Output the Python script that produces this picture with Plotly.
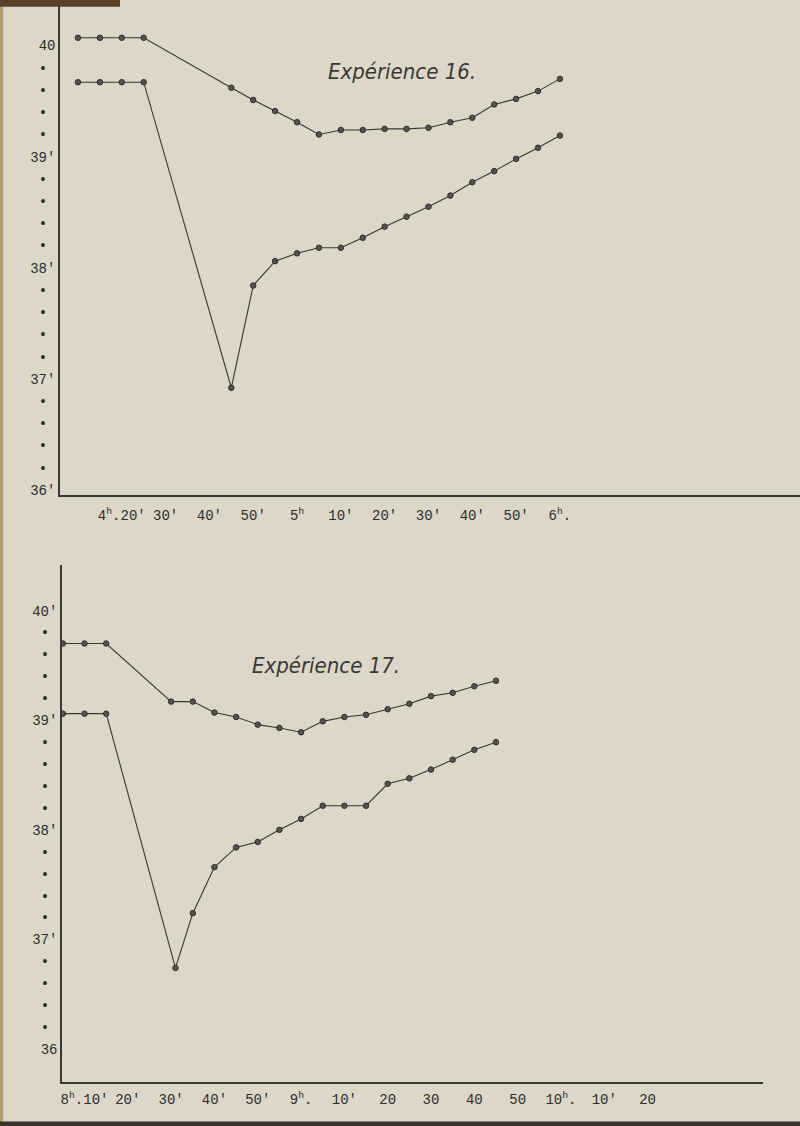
import pandas as pd
import plotly.graph_objects as go

# ---- Expérience 16 ----
exp16_times_haut = ["4:10", "4:15", "4:20", "4:25", "4:45", "4:50", "4:55", "5:00", "5:05", "5:10",
                    "5:15", "5:20", "5:25", "5:30", "5:35", "5:40", "5:45", "5:50", "5:55", "6:00"]
exp16_haut = [40.07, 40.07, 40.07, 40.07, 39.62, 39.51, 39.41, 39.31, 39.20, 39.24,
              39.24, 39.25, 39.25, 39.26, 39.31, 39.35, 39.47, 39.52, 39.59, 39.70]
exp16_times_bas = ["4:10", "4:15", "4:20", "4:25", "4:45", "4:50", "4:55", "5:00", "5:05", "5:10",
                   "5:15", "5:20", "5:25", "5:30", "5:35", "5:40", "5:45", "5:50", "5:55", "6:00"]
exp16_bas = [39.67, 39.67, 39.67, 39.67, 36.92, 37.84, 38.06, 38.13, 38.18, 38.18,
             38.27, 38.37, 38.46, 38.55, 38.65, 38.77, 38.87, 38.98, 39.08, 39.19]
exp16_ticks = ["4:20", "4:30", "4:40", "4:50", "5:00", "5:10", "5:20", "5:30", "5:40", "5:50", "6:00"]
exp16_ticklabels = ["4<sup>h</sup>.20'", "30'", "40'", "50'", "5<sup>h</sup>", "10'", "20'",
                    "30'", "40'", "50'", "6<sup>h</sup>."]

# ---- Expérience 17 ----
exp17_times_haut = ["8:05", "8:10", "8:15", "8:30", "8:35", "8:40", "8:45", "8:50", "8:55", "9:00",
                    "9:05", "9:10", "9:15", "9:20", "9:25", "9:30", "9:35", "9:40", "9:45"]
exp17_haut = [39.70, 39.70, 39.70, 39.17, 39.17, 39.07, 39.03, 38.96, 38.93, 38.89,
              38.99, 39.03, 39.05, 39.10, 39.15, 39.22, 39.25, 39.31, 39.36]
exp17_times_bas = ["8:05", "8:10", "8:15", "8:31", "8:35", "8:40", "8:45", "8:50", "8:55", "9:00",
                   "9:05", "9:10", "9:15", "9:20", "9:25", "9:30", "9:35", "9:40", "9:45"]
exp17_bas = [39.06, 39.06, 39.06, 36.74, 37.24, 37.66, 37.84, 37.89, 38.00, 38.10,
             38.22, 38.22, 38.22, 38.42, 38.47, 38.55, 38.64, 38.73, 38.80]
exp17_ticks = ["8:10", "8:20", "8:30", "8:40", "8:50", "9:00", "9:10", "9:20", "9:30", "9:40",
               "9:50", "10:00", "10:10", "10:20"]
exp17_ticklabels = ["8<sup>h</sup>.10'", "20'", "30'", "40'", "50'", "9<sup>h</sup>.", "10'", "20",
                    "30", "40", "50", "10<sup>h</sup>.", "10'", "20"]

y_major = [36, 37, 38, 39, 40]
y_major_text16 = ["36'", "37'", "38'", "39'", "40"]
y_major_text17 = ["36", "37'", "38'", "39'", "40'"]


def t(h):
    return pd.to_datetime("1900-01-01 " + pd.Series(h) + ":00")


def yticks(texts):
    vals, txt = [], []
    for i in range(36 * 5, 40 * 5 + 1):
        v = i / 5
        vals.append(v)
        if i % 5 == 0:
            txt.append(texts[y_major.index(int(round(v)))])
        else:
            txt.append("•\u00a0")
    return vals, txt


paper = "#dcd7c9"
ink = "#3a3631"
mark = dict(size=5.5, color="#57524b", line=dict(color="#2e2b27", width=1))

fig = go.Figure()
for xs, ys, ax in [(exp16_times_haut, exp16_haut, ""), (exp16_times_bas, exp16_bas, ""),
                   (exp17_times_haut, exp17_haut, "2"), (exp17_times_bas, exp17_bas, "2")]:
    fig.add_trace(go.Scatter(x=t(xs), y=ys, mode="lines+markers", xaxis="x" + ax, yaxis="y" + ax,
                             line=dict(color=ink, width=1.1), marker=mark, showlegend=False))

yv16, yt16 = yticks(y_major_text16)
yv17, yt17 = yticks(y_major_text17)

tick_font = dict(family="Liberation Mono, DejaVu Sans Mono", size=14, color="#2f2c28")
axis_common = dict(showgrid=False, zeroline=False, showline=True, linecolor=ink, linewidth=1.5,
                   ticks="", tickfont=tick_font, mirror=False, automargin=False)

fig.update_layout(
    width=800, height=1126,
    margin=dict(l=0, r=0, t=0, b=0),
    paper_bgcolor=paper, plot_bgcolor=paper,
    xaxis=dict(domain=[0.075, 1.0], type="date",
               range=[pd.Timestamp("1900-01-01 04:05:54"), pd.Timestamp("1900-01-01 06:54:48")],
               tickvals=t(exp16_ticks), ticktext=exp16_ticklabels, anchor="y",
               ticklabelstandoff=6, **axis_common),
    yaxis=dict(domain=[0.5604, 1.0], range=[35.955, 40.41], tickvals=yv16, ticktext=yt16,
               anchor="x", **axis_common),
    xaxis2=dict(domain=[0.0775, 0.954], type="date",
                range=[pd.Timestamp("1900-01-01 08:04:48"), pd.Timestamp("1900-01-01 10:46:42")],
                tickvals=t(exp17_ticks), ticktext=exp17_ticklabels, anchor="y2",
                ticklabelstandoff=3, **axis_common),
    yaxis2=dict(domain=[0.0391, 0.4982], range=[35.70, 40.416], tickvals=yv17, ticktext=yt17,
                anchor="x2", **axis_common),
    font=dict(family="Liberation Mono", color="#2f2c28"),
)

title_font = dict(family="Liberation Sans Narrow, DejaVu Sans Condensed, DejaVu Sans",
                  size=22, color="#3b3833", style="italic")
fig.add_annotation(text="Expérience 16.", xref="paper", yref="paper", x=0.503, y=1 - 57 / 1126,
                   showarrow=False, font=title_font)
fig.add_annotation(text="Expérience 17.", xref="paper", yref="paper", x=0.407, y=1 - 665 / 1126,
                   showarrow=False, font=title_font)

# bords du livre scanné
fig.add_shape(type="rect", xref="paper", yref="paper", x0=0, x1=0.004, y0=0, y1=1,
              fillcolor="#b49a68", line_width=0, layer="below")
fig.add_shape(type="rect", xref="paper", yref="paper", x0=0, x1=1, y0=0, y1=0.004,
              fillcolor="#3b3329", line_width=0)
fig.add_shape(type="rect", xref="paper", yref="paper", x0=0, x1=0.15, y0=0.994, y1=1,
              fillcolor="#5a4028", line_width=0)

fig.write_html("out.html", config={"displayModeBar": False},
               post_script="document.body.style.margin='0';")
